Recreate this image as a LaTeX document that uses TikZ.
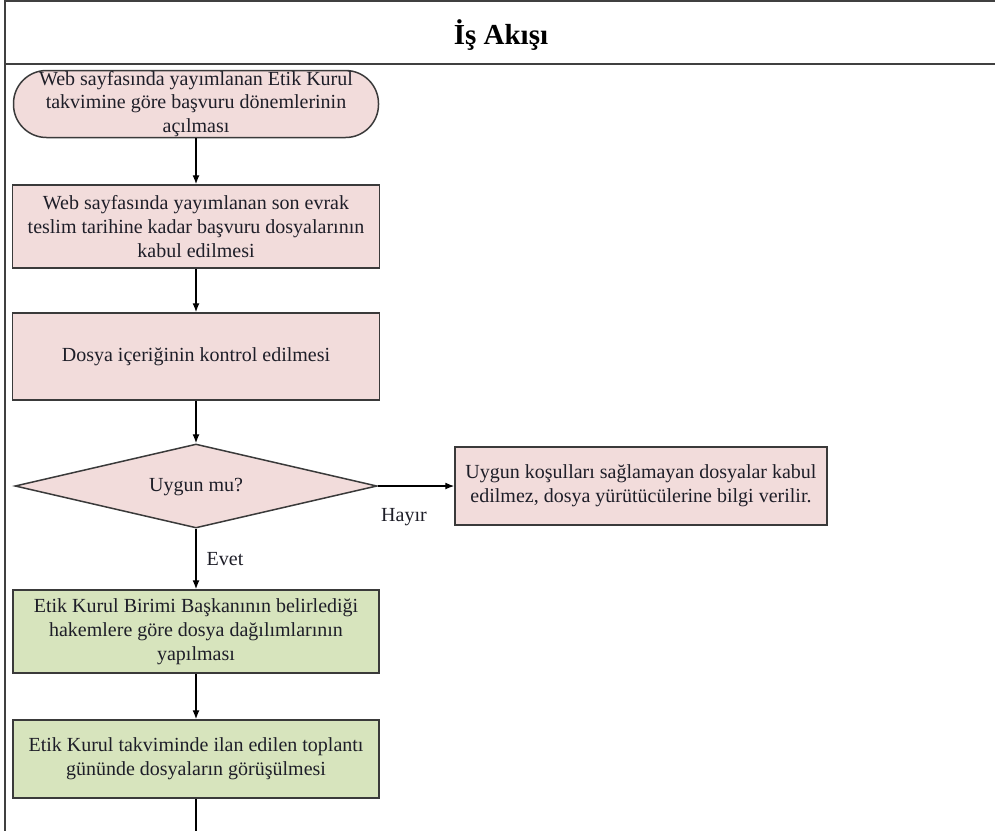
\documentclass[tikz,border=0pt]{standalone}
\usepackage{fontspec}
\setmainfont{Liberation Serif}
\usetikzlibrary{shapes.geometric,arrows.meta}
\definecolor{pinkfill}{HTML}{F2DCDB}
\definecolor{greenfill}{HTML}{D7E4BD}
\definecolor{edgegray}{HTML}{3A3A3A}
\definecolor{txt}{HTML}{1E1E28}
\begin{document}
\begin{tikzpicture}[x=1pt,y=-1pt,
  base/.style={draw=edgegray,line width=1.5pt,align=center,text=txt,
    font=\fontsize{20}{24}\selectfont,inner sep=0pt},
  pinkbox/.style={base,fill=pinkfill,rectangle},
  greenbox/.style={base,fill=greenfill,rectangle},
  flow/.style={line width=1.3pt,black,-{Latex[length=9pt,width=7pt]}},
  plain/.style={line width=1.3pt,black},
  lbl/.style={text=txt,font=\fontsize{20}{24}\selectfont,inner sep=0pt},
  frame/.style={line width=1.6pt,draw=black!75}]
\useasboundingbox (0,0) rectangle (995,831);
% frame
\coordinate (tl) at (5,1);
\coordinate (tr) at (995,1);
\coordinate (hl) at (5,64);
\coordinate (hr) at (995,64);
\coordinate (bl) at (5,831);
\draw[frame] (tr) -- (tl) -- (bl);
\draw[frame,line width=2pt] (hl) -- (hr);
\node[font=\bfseries\fontsize{29}{32}\selectfont,text=black] (title) at (501,35) {İş Akışı};
% nodes
\node[pinkbox,rounded corners=33pt,minimum width=365pt,minimum height=67pt,
  font=\fontsize{20}{23.5}\selectfont] (term) at (196,104)
  {Web sayfasında yayımlanan Etik Kurul\\takvimine göre başvuru dönemlerinin\\açılması};
\node[pinkbox,minimum width=367pt,minimum height=83pt] (b2) at (196,226.5)
  {Web sayfasında yayımlanan son evrak\\teslim tarihine kadar başvuru dosyalarının\\kabul edilmesi};
\node[pinkbox,minimum width=367pt,minimum height=87pt] (b3) at (196,356.5)
  {Dosya içeriğinin kontrol edilmesi};
\node[base,fill=pinkfill,diamond,aspect=4.3,minimum width=362pt,minimum height=84pt] (dec) at (196,486)
  {\raisebox{-5pt}[0pt][0pt]{Uygun mu?}};
\node[pinkbox,minimum width=372pt,minimum height=78pt] (rej) at (641,486)
  {Uygun koşulları sağlamayan dosyalar kabul\\edilmez, dosya yürütücülerine bilgi verilir.};
\node[greenbox,minimum width=366pt,minimum height=83pt] (g1) at (196,631.5)
  {Etik Kurul Birimi Başkanının belirlediği\\hakemlere göre dosya dağılımlarının\\yapılması};
\node[greenbox,minimum width=366pt,minimum height=78pt] (g2) at (196,759)
  {Etik Kurul takviminde ilan edilen toplantı\\gününde dosyaların görüşülmesi};
\coordinate (end) at (196,831);
% connectors
\draw[flow] (term) -- (b2);
\draw[flow] (b2) -- (b3);
\draw[flow] (b3) -- (dec);
\draw[flow] (dec.east) -- (rej.west);
\draw[flow] (dec) -- (g1);
\draw[flow] (g1) -- (g2);
\draw[plain] (g2.south) -- (end);
\node[lbl] (hayir) at (404,517) {Hayır};
\node[lbl] (evet) at (225,559) {Evet};
\end{tikzpicture}
\end{document}
